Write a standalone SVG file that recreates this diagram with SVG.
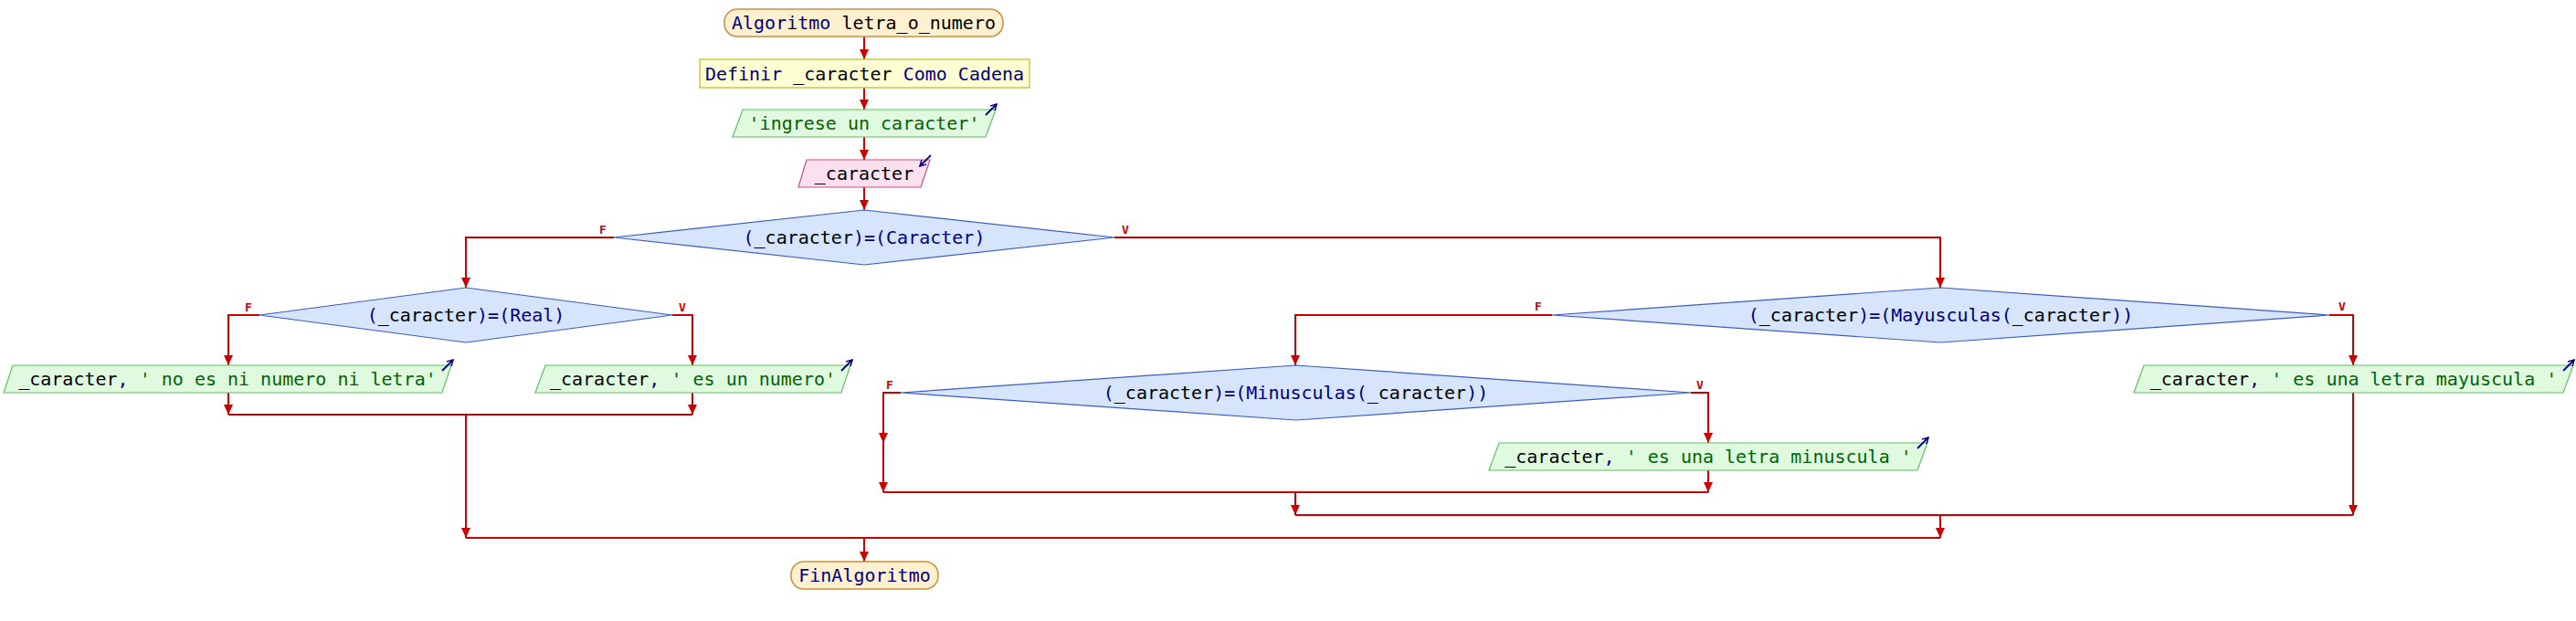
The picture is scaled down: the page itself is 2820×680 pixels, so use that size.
<svg xmlns="http://www.w3.org/2000/svg" width="2820" height="680" viewBox="0 0 2820 680">
<defs>
<marker id="ah" markerUnits="userSpaceOnUse" markerWidth="12" markerHeight="10" viewBox="0 0 12 10" refX="11" refY="5" orient="auto">
<path d="M0,0 L11,5 L0,10 Z" fill="#cc0000"/>
</marker>
<marker id="ic" markerUnits="userSpaceOnUse" markerWidth="8" markerHeight="8" viewBox="0 0 8 8" refX="7" refY="4" orient="auto">
<path d="M0,0 L7,4 L0,8" fill="none" stroke="#000080" stroke-width="1.5"/>
</marker>
</defs>
<style>
.t{font-family:"DejaVu Sans Mono","Liberation Mono",monospace;font-size:20px;}
.k{fill:#000080}
.i{fill:#000000}
.s{fill:#006400}
.lab{font-family:"DejaVu Sans Mono","Liberation Mono",monospace;font-size:13px;font-weight:bold;fill:#cc0000;text-anchor:middle}
.term{fill:#fff0d0;stroke:#c89040;stroke-width:1.5}
.def{fill:#ffffd4;stroke:#c8c850;stroke-width:1.5}
.out{fill:#e0fae0;stroke:#60c060;stroke-width:1.2}
.in{fill:#fce0ee;stroke:#c0508a;stroke-width:1.2}
.dia{fill:#d6e4fc;stroke:#3c5cc4;stroke-width:1.2}
.icon{stroke:#000080;stroke-width:1.8;fill:none}
.c{fill:none;stroke:#cc0000;stroke-width:2}
.ca{fill:none;stroke:#cc0000;stroke-width:2;marker-end:url(#ah)}
</style>
<g id="connectors">
<path class="ca" d="M946,40 V65"/>
<path class="ca" d="M946,96 V120"/>
<path class="ca" d="M946,150 V175"/>
<path class="ca" d="M946,205 V230"/>
<path class="ca" d="M672,260 H510 V315"/>
<path class="ca" d="M1220,260 H2124 V315"/>
<path class="ca" d="M284,345 H250 V400"/>
<path class="ca" d="M736,345 H758 V400"/>
<path class="ca" d="M250,430 V454"/>
<path class="ca" d="M758,430 V454"/>
<path class="c" d="M250,454 H758"/>
<path class="ca" d="M510,454 V589"/>
<path class="ca" d="M1699,345 H1418 V400"/>
<path class="ca" d="M2550,345 H2576 V400"/>
<path class="ca" d="M986,430 H967 V485"/>
<path class="ca" d="M967,485 V539"/>
<path class="ca" d="M1851,430 H1870 V485"/>
<path class="ca" d="M1870,515 V539"/>
<path class="c" d="M967,539 H1870"/>
<path class="ca" d="M1418,539 V564"/>
<path class="ca" d="M2576,430 V564"/>
<path class="c" d="M1418,564 H2576"/>
<path class="ca" d="M2124,564 V589"/>
<path class="c" d="M510,589 H2124"/>
<path class="ca" d="M946,589 V615"/>
<text class="lab" x="660" y="256">F</text>
<text class="lab" x="1232" y="256">V</text>
<text class="lab" x="272" y="341">F</text>
<text class="lab" x="747" y="341">V</text>
<text class="lab" x="1684" y="340">F</text>
<text class="lab" x="2564" y="340">V</text>
<text class="lab" x="974" y="426">F</text>
<text class="lab" x="1861" y="426">V</text>
</g>
<g id="start">
<rect class="term" x="793" y="10" width="305" height="30" rx="14" ry="14"/>
<text class="t" x="945.5" y="32" text-anchor="middle"><tspan class="k">Algoritmo</tspan><tspan class="i"> letra_o_numero</tspan></text>
</g>
<g id="definir">
<rect class="def" x="766" y="65" width="361" height="31"/>
<text class="t" x="946.5" y="88" text-anchor="middle"><tspan class="k">Definir</tspan><tspan class="i"> _caracter </tspan><tspan class="k">Como Cadena</tspan></text>
</g>
<g id="escribir1">
<polygon class="out" points="813,120 1090,120 1079,150 802,150"/>
<text class="t s" x="946" y="142" text-anchor="middle">'ingrese un caracter'</text>
<path class="icon" d="M1079,126 L1091,114" marker-end="url(#ic)"/>
</g>
<g id="leer">
<polygon class="in" points="883,175 1018,175 1008,205 874,205"/>
<text class="t i" x="946" y="197" text-anchor="middle">_caracter</text>
<path class="icon" d="M1019,170 L1007,182" marker-end="url(#ic)"/>
</g>
<g id="si_caracter">
<polygon class="dia" points="946,230 1220,260 946,290 672,260"/>
<text class="t" x="946" y="267" text-anchor="middle"><tspan class="k">(</tspan><tspan class="i">_caracter</tspan><tspan class="k">)=(Caracter)</tspan></text>
</g>
<g id="si_real">
<polygon class="dia" points="510,315 736,345 510,375 284,345"/>
<text class="t" x="510" y="352" text-anchor="middle"><tspan class="k">(</tspan><tspan class="i">_caracter</tspan><tspan class="k">)=(Real)</tspan></text>
</g>
<g id="escribir_no">
<polygon class="out" points="14,400 494,400 484,430 4,430"/>
<text class="t" x="249" y="422" text-anchor="middle"><tspan class="i">_caracter</tspan><tspan class="k">, </tspan><tspan class="s">' no es ni numero ni letra'</tspan></text>
<path class="icon" d="M484,406 L496,394" marker-end="url(#ic)"/>
</g>
<g id="escribir_numero">
<polygon class="out" points="597,400 931,400 921,430 586,430"/>
<text class="t" x="758.5" y="422" text-anchor="middle"><tspan class="i">_caracter</tspan><tspan class="k">, </tspan><tspan class="s">' es un numero'</tspan></text>
<path class="icon" d="M921,406 L933,394" marker-end="url(#ic)"/>
</g>
<g id="si_mayusculas">
<polygon class="dia" points="2124.5,315 2550,345 2124.5,375 1699,345"/>
<text class="t" x="2124.5" y="352" text-anchor="middle"><tspan class="k">(</tspan><tspan class="i">_caracter</tspan><tspan class="k">)=(Mayusculas(</tspan><tspan class="i">_caracter</tspan><tspan class="k">))</tspan></text>
</g>
<g id="escribir_mayuscula">
<polygon class="out" points="2347,400 2817,400 2806,430 2336,430"/>
<text class="t" x="2576.5" y="422" text-anchor="middle"><tspan class="i">_caracter</tspan><tspan class="k">, </tspan><tspan class="s">' es una letra mayuscula '</tspan></text>
<path class="icon" d="M2806,406 L2818,394" marker-end="url(#ic)"/>
</g>
<g id="si_minusculas">
<polygon class="dia" points="1418.5,400 1851,430 1418.5,460 986,430"/>
<text class="t" x="1418.5" y="437" text-anchor="middle"><tspan class="k">(</tspan><tspan class="i">_caracter</tspan><tspan class="k">)=(Minusculas(</tspan><tspan class="i">_caracter</tspan><tspan class="k">))</tspan></text>
</g>
<g id="escribir_minuscula">
<polygon class="out" points="1641,485 2110,485 2099,515 1630,515"/>
<text class="t" x="1870" y="507" text-anchor="middle"><tspan class="i">_caracter</tspan><tspan class="k">, </tspan><tspan class="s">' es una letra minuscula '</tspan></text>
<path class="icon" d="M2099,491 L2111,479" marker-end="url(#ic)"/>
</g>
<g id="fin">
<rect class="term" x="866" y="615" width="161" height="30" rx="14" ry="14"/>
<text class="t k" x="946.5" y="637" text-anchor="middle">FinAlgoritmo</text>
</g>
</svg>
